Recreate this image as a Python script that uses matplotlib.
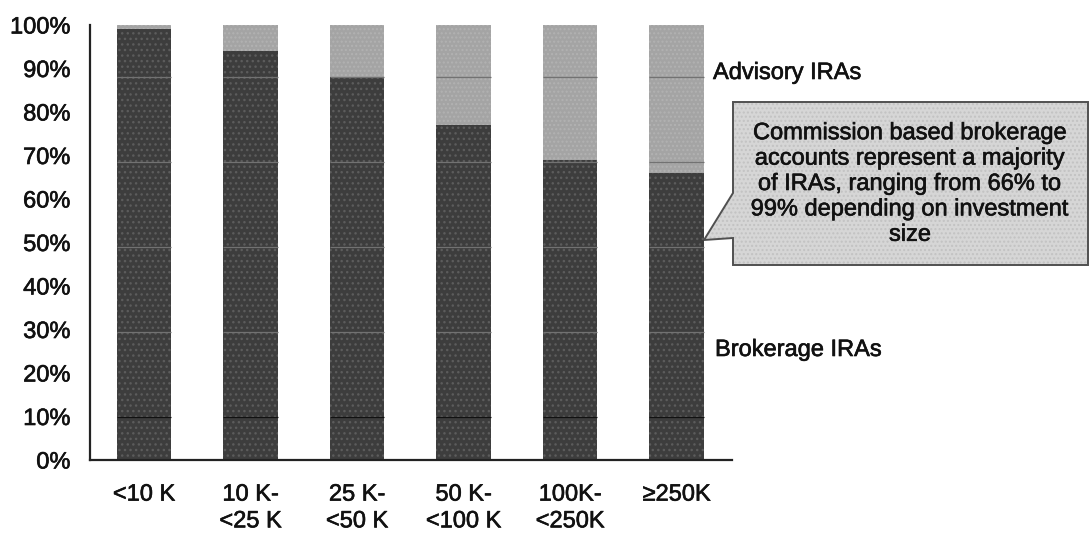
import matplotlib.pyplot as plt
import matplotlib.patheffects as pe
from matplotlib.patches import Polygon

# IRA mix by account size, % of accounts
size_bands = ["<10 K", "10 K-\n<25 K", "25 K-\n<50 K", "50 K-\n<100 K",
              "100K-\n<250K", "\u2265250K"]
brokerage = [99, 94, 88, 77, 69, 66]
advisory = [1, 6, 12, 23, 31, 34]
y_ticks = [0, 10, 20, 30, 40, 50, 60, 70, 80, 90, 100]
guide_levels = [10, 29.5, 49, 68.5, 88]

callout_text = ("Commission based brokerage\naccounts represent a majority\n"
                "of IRAs, ranging from 66% to\n99% depending on investment\nsize")

plt.rcParams["font.family"] = ["Liberation Sans", "DejaVu Sans"]
plt.rcParams["hatch.linewidth"] = 1.0
FS = 17

W, H = 1091, 534
fig = plt.figure(figsize=(W / 100, H / 100), dpi=100)
ax = fig.add_axes([90 / W, 1 - 460 / H, (732 - 90) / W, (460 - 25) / H])

x = list(range(len(size_bands)))
width = 0.51

ax.bar(x, brokerage, width, color="#3d3d3d", edgecolor="#5c5c5c",
       hatch="...", linewidth=0, zorder=2)
ax.bar(x, advisory, width, bottom=brokerage, color="#a4a4a4",
       edgecolor="#b2b2b2", hatch="....", linewidth=0, zorder=2)

# horizontal guides show only across the bars
for lvl in guide_levels:
    col = "#111111" if lvl == 10 else "#727272"
    ax.hlines([lvl] * len(x), [i - width / 2 for i in x],
              [i + width / 2 for i in x], colors=col, linewidth=0.9, zorder=3)

ax.set_xlim(-0.507, 5.52)
ax.set_ylim(0, 100)
ax.set_yticks(y_ticks)
ax.set_yticklabels([f"{v}%" for v in y_ticks], fontsize=FS)
ax.set_xticks(x)
ax.set_xticklabels(size_bands, fontsize=FS, linespacing=1.28, va="top")
ax.tick_params(axis="y", length=0, pad=14)
ax.tick_params(axis="x", length=0, pad=17)
for side in ("top", "right"):
    ax.spines[side].set_visible(False)
for side in ("left", "bottom"):
    ax.spines[side].set_linewidth(1.6)
    ax.spines[side].set_color("#222222")

fig.text(713 / W, 1 - 73 / H, "Advisory IRAs", fontsize=FS, va="center", ha="left")
fig.text(715 / W, 1 - 350 / H, "Brokerage IRAs", fontsize=FS, va="center", ha="left")

# callout box with pointer towards the last bar
pts = [(733, 102), (1088, 102), (1088, 265), (733, 265), (733, 238),
       (704, 240), (733, 193)]
fig_pts = [(px / W, 1 - py / H) for px, py in pts]
fill = Polygon(fig_pts, closed=True, transform=fig.transFigure,
               facecolor="#d6d6d6", edgecolor="#c2c2c2", linewidth=0,
               hatch="....", zorder=5)
outline = Polygon(fig_pts, closed=True, transform=fig.transFigure,
                  facecolor="none", edgecolor="#505050", linewidth=1.4,
                  zorder=6)
fig.patches.extend([fill, outline])
fig.text(910 / W, 1 - 184 / H, callout_text, fontsize=FS, ha="center",
         va="center", linespacing=1.2, zorder=7)

# slightly heavier strokes on all the lettering
heavy = [pe.withStroke(linewidth=0.45, foreground="#111111")]
for t in ax.get_xticklabels() + ax.get_yticklabels() + fig.texts:
    t.set_color("#111111")
    t.set_path_effects(heavy)

fig.savefig("out.png", dpi=100)
